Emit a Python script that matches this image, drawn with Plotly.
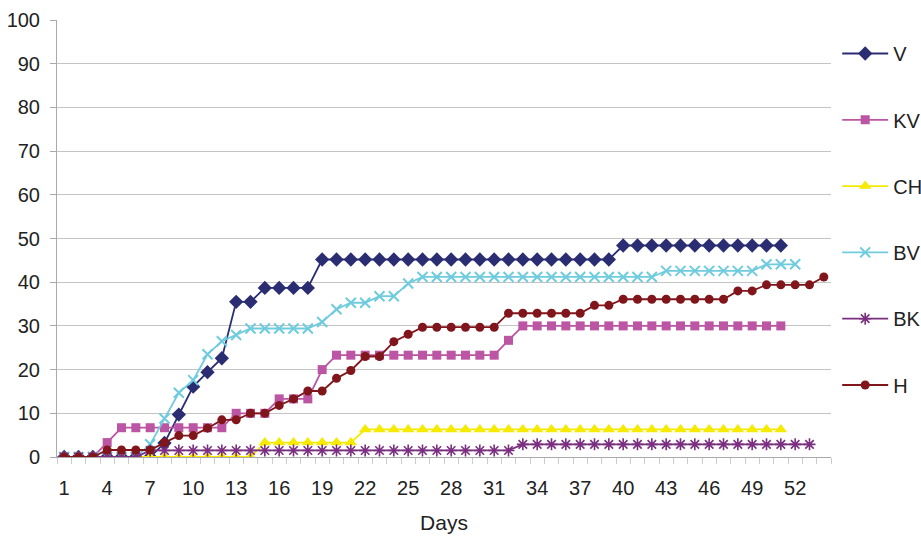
import plotly.graph_objects as go

days = list(range(1, 55))

v = [0, 0, 0, 0, 0, 0, 0, 3.2, 9.7, 16.1, 19.4, 22.6, 35.5, 35.5,
     38.7, 38.7, 38.7, 38.7] + [45.2] * 21 + [48.4] * 12
kv = [0, 0, 0, 3.3] + [6.7] * 8 + [10.0] * 3 + [13.3] * 3 + [20.0] + \
     [23.3] * 12 + [26.7] + [30.0] * 19
ch = [0] * 14 + [3.3] * 7 + [6.3] * 30
bv = [0, 0, 0, 0, 0, 0, 2.9, 8.8, 14.7, 17.6, 23.5, 26.5, 27.9] + \
     [29.4] * 5 + [30.9, 33.8, 35.3, 35.3, 36.8, 36.8, 39.7] + \
     [41.2] * 17 + [42.6] * 7 + [44.1] * 3
bk = [0] * 6 + [1.5] * 26 + [2.9] * 21
h = [0, 0, 0, 1.6, 1.6, 1.6, 1.6, 3.3, 4.9, 4.9, 6.6, 8.5, 8.5, 10.0, 10.0,
     11.8, 13.3, 15.1, 15.1, 18.0, 19.8, 23.0, 23.0, 26.4, 28.1] + \
    [29.7] * 6 + [32.9] * 6 + [34.7] * 2 + [36.1] * 8 + [38.0] * 2 + \
    [39.4] * 4 + [41.2]

x_ticks = list(range(1, 53, 3))

series = [
    ("V", v, "#2b2d72", dict(symbol="diamond", size=11)),
    ("KV", kv, "#bb55a4", dict(symbol="square", size=9)),
    ("CH", ch, "#f5ea00", dict(symbol="triangle-up", size=11)),
    ("BV", bv, "#6fcbde", dict(symbol="x-thin", size=10,
                                line=dict(width=2, color="#6fcbde"))),
    ("BK", bk, "#7b2f80", dict(symbol="asterisk", size=10,
                                line=dict(width=1.6, color="#7b2f80"))),
    ("H", h, "#80161b", dict(symbol="circle", size=9)),
]

fig = go.Figure()
for name, vals, color, marker in series:
    fig.add_trace(go.Scatter(
        x=days[:len(vals)], y=vals, name=name, mode="lines+markers",
        line=dict(color=color, width=1.8),
        marker=dict(color=color, **marker),
        legendgroup=name,
    ))

font = dict(family="Liberation Sans, Arial, sans-serif", size=20, color="#222222")
title_font = dict(family="Liberation Sans, Arial, sans-serif", size=21, color="#222222")

fig.update_layout(
    width=921, height=537,
    margin=dict(l=57, r=90, t=20, b=80, autoexpand=False),
    paper_bgcolor="white", plot_bgcolor="white",
    font=font,
    showlegend=True,
    legend=dict(x=1.008, xanchor="left", y=0.968, yanchor="top",
                tracegroupgap=37.3, itemwidth=46, font=font,
                bgcolor="rgba(0,0,0,0)"),
    xaxis=dict(
        range=[0.5, 54.5], tickmode="array", tickvals=x_ticks,
        ticks="", showgrid=False, zeroline=False,
        showline=True, linecolor="#aaaaaa", linewidth=1,
        ticklabelstandoff=13, tickfont=font,
        minor=dict(ticks="outside", tick0=0.5, dtick=1, ticklen=6,
                   tickcolor="#cccccc", showgrid=False),
        title=dict(text="Days", font=title_font, standoff=17),
    ),
    yaxis=dict(
        range=[0, 100], dtick=10, ticks="outside", ticklen=6,
        tickcolor="#aaaaaa", showgrid=True, gridcolor="#c4c4c4",
        gridwidth=1, zeroline=False, showline=True, tickfont=font,
        linecolor="#aaaaaa", linewidth=1, ticklabelstandoff=6,
    ),
)

fig.write_html("out.html")
